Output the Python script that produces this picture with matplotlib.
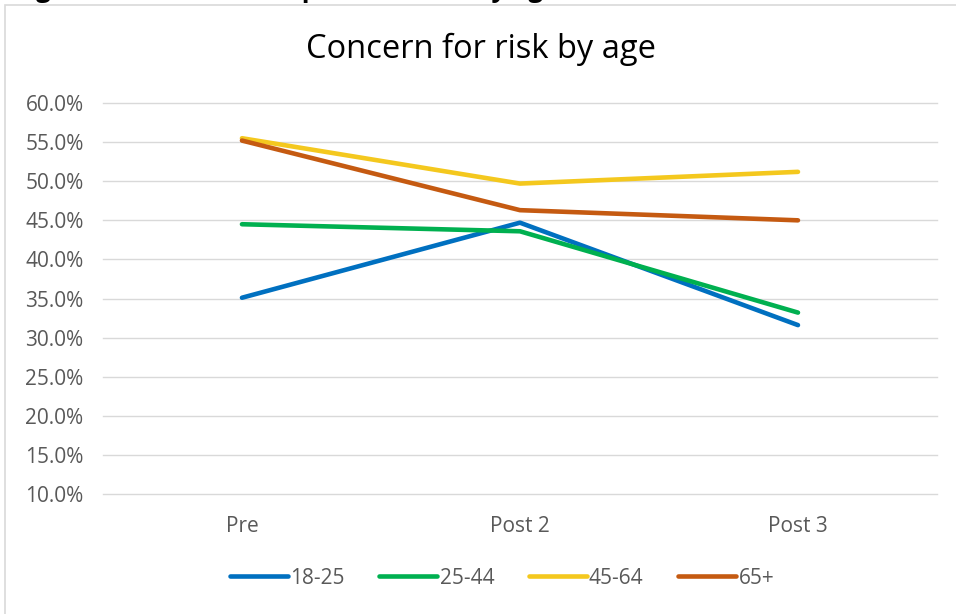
import matplotlib.pyplot as plt
from matplotlib.patches import Rectangle
from matplotlib.ticker import PercentFormatter

plt.rcParams['font.family'] = ['Open Sans', 'DejaVu Sans']

# 調査時点と年齢層ごとの懸念の割合 (%)
stages = ['Pre', 'Post 2', 'Post 3']
age_groups = ['18-25', '25-44', '45-64', '65+']
age_18_25 = [35.1, 44.7, 31.6]
age_25_44 = [44.5, 43.6, 33.2]
age_45_64 = [55.5, 49.7, 51.2]
age_65_plus = [55.2, 46.3, 45.0]
series = [age_18_25, age_25_44, age_45_64, age_65_plus]
colors = ['#0070C0', '#00B050', '#F4C81E', '#C55A11']

fig = plt.figure(figsize=(9.56, 6.14), dpi=100)
ax = fig.add_axes([0.1077, 0.1954, 0.9801 - 0.1077, 0.8322 - 0.1954])

# グラフ枠
fig.patches.append(Rectangle((5 / 956, -0.05), 1.0, 1 - 5 / 614 + 0.05,
                             transform=fig.transFigure, fill=False,
                             edgecolor='#D9D9D9', linewidth=1.2))
fig.text(14 / 956, 1 + 3.5 / 614, 'Figure 12: Concern for personal risk by age',
         fontsize=18.5, fontweight='bold', color='black', va='baseline')

x = range(len(stages))
for vals, name, c in zip(series, age_groups, colors):
    ax.plot(x, vals, color=c, linewidth=3.3, solid_capstyle='round',
            solid_joinstyle='round', label=name)

ax.set_xlim(-0.5, 2.5)
ax.set_ylim(10, 60)
ax.set_yticks(range(10, 61, 5))
ax.yaxis.set_major_formatter(PercentFormatter(decimals=1))
ax.set_xticks(list(x))
ax.set_xticklabels(stages)
ax.grid(axis='y', color='#D9D9D9', linewidth=1)
for gl in ax.get_ygridlines():
    gl.set_clip_on(False)
ax.set_axisbelow(True)
for s in ax.spines.values():
    s.set_visible(False)
ax.tick_params(length=0, labelsize=15, colors='#595959', pad=14)
ax.tick_params(axis='x', pad=16)

fig.text(481 / 956, 1 - 49 / 614, 'Concern for risk by age',
         fontsize=23.5, color='black', ha='center', va='center')

ax.legend(loc='center', bbox_to_anchor=(502 / 956, (614 - 578) / 614), bbox_transform=fig.transFigure,
          ncol=4, frameon=False, fontsize=15, handlelength=2.8,
          handletextpad=0.1, columnspacing=1.65, labelcolor='#595959')

fig.savefig('out.png', dpi=100)
